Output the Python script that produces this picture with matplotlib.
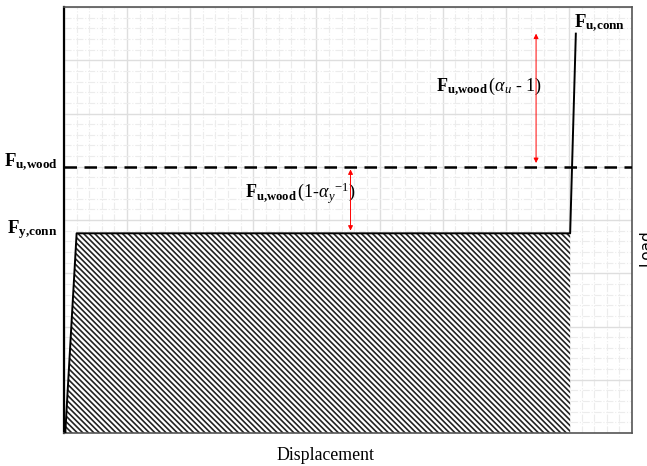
import numpy as np
import matplotlib
matplotlib.use("Agg")
import matplotlib.pyplot as plt
from matplotlib.ticker import MultipleLocator

plt.rcParams["font.family"] = "Liberation Serif"
plt.rcParams["mathtext.fontset"] = "custom"
plt.rcParams["mathtext.rm"] = "Liberation Serif"
plt.rcParams["mathtext.it"] = "Liberation Serif:italic"
plt.rcParams["mathtext.bf"] = "Liberation Serif:bold"
plt.rcParams["hatch.linewidth"] = 1.2

# ============================================================
# DATA (idealised load-displacement curve)
# ============================================================

curva_x = [0.02, 0.2, 8.02, 8.11]
curva_y = [0.0, 3.75, 3.75, 7.5]

area_x = [0.02, 0.2, 8.02, 8.02]
area_y = [0.0, 3.75, 3.75, 0.0]

F_u_wood = 5.0
F_y_conn = 3.75
F_u_conn = 7.5

seta1_x = 4.54
seta1_y = [3.8, 4.95]
seta2_x = 7.48
seta2_y = [5.07, 7.5]

# ============================================================
# FIGURE
# ============================================================

fig = plt.figure(figsize=(6.47, 4.66), dpi=100)
ax = fig.add_axes([64/647, 33/466, 568/647, 426/466])

ax.set_xlim(0, 9)
ax.set_ylim(0, 8)

ax.xaxis.set_major_locator(MultipleLocator(1))
ax.yaxis.set_major_locator(MultipleLocator(1))
ax.xaxis.set_minor_locator(MultipleLocator(0.2))
ax.yaxis.set_minor_locator(MultipleLocator(0.2))
ax.grid(True, which="major", color="#dedede", lw=1.0)
ax.grid(True, which="minor", color="#ececec", lw=0.8, linestyle="-.")
ax.set_axisbelow(True)
ax.tick_params(which="both", length=0, labelbottom=False, labelleft=False)

for s in ["top", "right", "bottom"]:
    ax.spines[s].set_color("#555555")
    ax.spines[s].set_linewidth(1.2)
ax.spines["left"].set_color("black")
ax.spines["left"].set_linewidth(1.6)

# area hachurada
ax.fill(area_x, area_y, facecolor="white", edgecolor="#222222",
        hatch="\\" * 6, lw=0, zorder=2)
ax.plot(curva_x, curva_y, color="black", lw=1.4, zorder=3)

# linha tracejada F_u,wood
ax.axhline(F_u_wood, color="black", lw=1.8, linestyle=(0, (5, 3)), zorder=3)

# setas vermelhas
for sx, sy in [(seta1_x, seta1_y), (seta2_x, seta2_y)]:
    ax.annotate("", xy=(sx, sy[0]), xytext=(sx, sy[1]),
                arrowprops=dict(arrowstyle="<|-|>", color="red", lw=0.7,
                                mutation_scale=7, shrinkA=0, shrinkB=0),
                zorder=4)

# textos
ax.text(-0.1, F_u_wood, r"$\mathbf{F}_{\mathbf{u{,}wood}}$", fontsize=13.5,
        ha="right", va="baseline", clip_on=False)
ax.text(-0.1, F_y_conn, r"$\mathbf{F}_{\mathbf{y{,}conn}}$", fontsize=13.5,
        ha="right", va="baseline", clip_on=False)
ax.text(8.08, 7.62, r"$\mathbf{F}_{\mathbf{u{,}conn}}$", fontsize=13.5,
        ha="left", va="baseline", clip_on=False)
ax.text(5.89, 6.41, r"$\mathbf{F}_{\mathbf{u{,}wood}}\,$($\alpha_u$ - 1)",
        fontsize=13, ha="left", va="baseline")
ax.text(2.87, 4.41, r"$\mathbf{F}_{\mathbf{u{,}wood}}\,$(1-$\alpha_y$$^{\mathrm{-1}}$)",
        fontsize=13, ha="left", va="baseline")

fig.text(325/647, 6/466, "Displacement", fontsize=12.8,
         ha="center", va="baseline")
fig.text(638/647, 218/466, "Load", fontsize=11, family="DejaVu Sans",
         rotation=90, ha="left", va="center")

plt.savefig("out.png", dpi=100)
plt.close()
